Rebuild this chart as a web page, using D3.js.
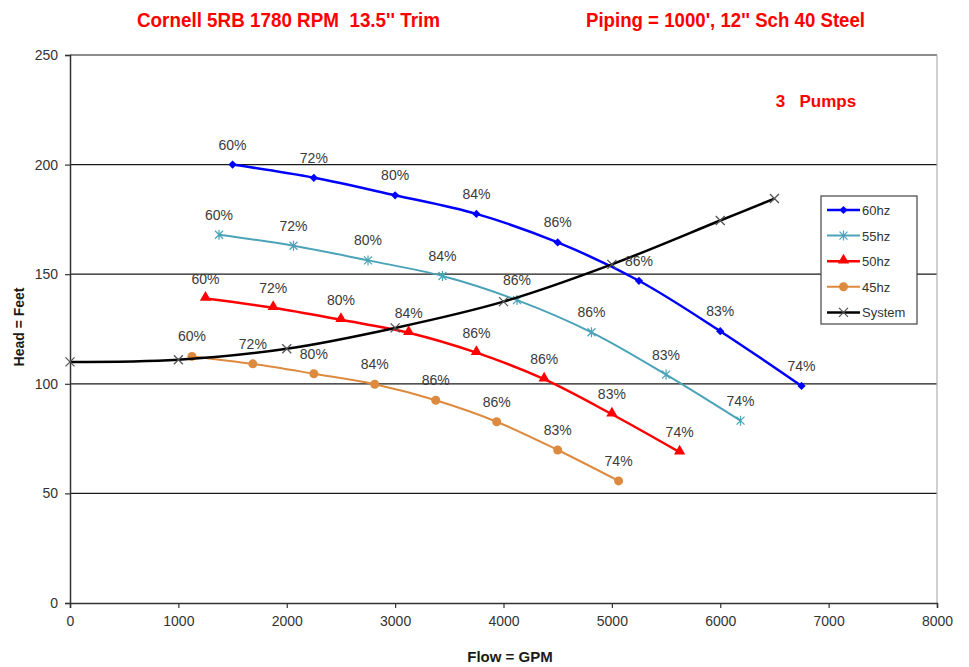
<!DOCTYPE html>
<html>
<head>
<meta charset="utf-8">
<script src="https://cdn.jsdelivr.net/npm/d3@7"></script>
<style>
  html, body { margin: 0; padding: 0; background: #fff; }
  svg { display: block; }
  .narrow { font-family: "Liberation Sans Narrow", "Arial Narrow", "Liberation Sans", Arial, sans-serif; }
  .reg { font-family: "Liberation Sans", Arial, sans-serif; }
</style>
</head>
<body>
<svg id="chart" width="969" height="667"></svg>
<script>
// Pump curves at four drive speeds plus the piping system curve
const flow60 = [1500, 2250, 3000, 3750, 4500, 5250, 6000, 6750];
const head60 = [200, 194, 186, 177.5, 164.5, 147, 124, 99];
const flow55 = [1375, 2062, 2750, 3437, 4125, 4812, 5500, 6187];
const head55 = [168, 163, 156.3, 149.2, 138.2, 123.5, 104.2, 83.2];
const flow50 = [1250, 1875, 2500, 3125, 3750, 4375, 5000, 5625];
const head50 = [138.9, 134.7, 129.2, 123.3, 114.2, 102.1, 86.1, 68.8];
const flow45 = [1125, 1687, 2250, 2812, 3375, 3937, 4500, 5062];
const head45 = [112.5, 109.1, 104.6, 99.8, 92.5, 82.7, 69.8, 55.7];
const effLabels = ["60%", "72%", "80%", "84%", "86%", "86%", "83%", "74%"];
const sysFlow = [0, 1000, 2000, 3000, 4000, 5000, 6000, 6500];
const sysHead = [110, 111, 116, 125.5, 137.5, 154.5, 174.5, 184.5];
const xTicks = [0, 1000, 2000, 3000, 4000, 5000, 6000, 7000, 8000];
const yTicks = [0, 50, 100, 150, 200, 250];

const series = [
  { name: "60hz", flow: flow60, head: head60, color: "#0000ff", marker: "diamond", width: 2.5 },
  { name: "55hz", flow: flow55, head: head55, color: "#4aa3b8", marker: "star", width: 2 },
  { name: "50hz", flow: flow50, head: head50, color: "#ff0000", marker: "triangle", width: 2.5 },
  { name: "45hz", flow: flow45, head: head45, color: "#dd8a3e", marker: "circle", width: 2 },
  { name: "System", flow: sysFlow, head: sysHead, color: "#000000", marker: "cross", width: 2.5 }
];

const svg = d3.select("#chart");
const x = d3.scaleLinear().domain([0, 8000]).range([70, 937]);
const y = d3.scaleLinear().domain([0, 250]).range([603, 55]);

// Gridlines
svg.append("g").selectAll("line").data(yTicks.filter(d => d > 0)).join("line")
  .attr("x1", x(0)).attr("x2", x(8000))
  .attr("y1", d => y(d)).attr("y2", d => y(d))
  .attr("stroke", "#1a1a1a").attr("stroke-width", 1.2);

// Right border of plot area
svg.append("line").attr("x1", x(8000)).attr("x2", x(8000))
  .attr("y1", y(250)).attr("y2", y(0)).attr("stroke", "#b0b0b0").attr("stroke-width", 1.2);

// Axes
const xAxis = svg.append("g").attr("transform", `translate(0,${y(0)})`)
  .call(d3.axisBottom(x).tickValues(xTicks).tickSize(5).tickPadding(8).tickFormat(d3.format("d")));
const yAxis = svg.append("g").attr("transform", `translate(${x(0)},0)`)
  .call(d3.axisLeft(y).tickValues(yTicks).tickSize(5).tickPadding(7).tickFormat(d3.format("d")));
[xAxis, yAxis].forEach(g => {
  g.select(".domain").attr("stroke", "#333").attr("stroke-width", 1.5);
  g.selectAll(".tick line").attr("stroke", "#333").attr("stroke-width", 1.2);
  g.selectAll(".tick text").attr("class", "narrow").attr("font-size", 14).attr("fill", "#333");
});

// Marker symbol generators
function drawMarker(g, type, color) {
  if (type === "diamond") {
    g.append("path").attr("d", d3.symbol(d3.symbolSquare, 34)()).attr("fill", color)
      .attr("transform", "rotate(45)");
  } else if (type === "triangle") {
    g.append("path").attr("d", d3.symbol(d3.symbolTriangle, 55)()).attr("fill", color)
      .attr("transform", "translate(0,-1)");
  } else if (type === "circle") {
    g.append("circle").attr("r", 4.5).attr("fill", color);
  } else if (type === "star") {
    g.append("path").attr("d", "M-4,-4L4,4M-4,4L4,-4M0,-5L0,5").attr("stroke", color)
      .attr("stroke-width", 1.2).attr("fill", "none");
  } else if (type === "cross") {
    g.append("path").attr("d", "M-4.5,-4.5L4.5,4.5M-4.5,4.5L4.5,-4.5").attr("stroke", "#555")
      .attr("stroke-width", 1.3).attr("fill", "none");
  }
}

const line = d3.line().x(d => x(d[0])).y(d => y(d[1])).curve(d3.curveCatmullRom.alpha(0.5));

series.forEach(s => {
  const pts = s.flow.map((f, i) => [f, s.head[i]]);
  svg.append("path").datum(pts).attr("d", line)
    .attr("fill", "none").attr("stroke", s.color).attr("stroke-width", s.width);
  const g = svg.append("g");
  pts.forEach(p => {
    drawMarker(g.append("g").attr("transform", `translate(${x(p[0])},${y(p[1])})`), s.marker, s.color);
  });
});

// Efficiency labels above pump curve points
series.slice(0, 4).forEach(s => {
  svg.append("g").selectAll("text").data(s.flow.map((f, i) => [f, s.head[i], effLabels[i]])).join("text")
    .attr("class", "reg")
    .attr("x", d => x(d[0])).attr("y", d => y(d[1]) - 15)
    .attr("text-anchor", "middle").attr("font-size", 14).attr("fill", "#3a3a3a")
    .text(d => d[2]);
});

// Legend
const lg = svg.append("g").attr("transform", "translate(821,196)");
lg.append("rect").attr("width", 96).attr("height", 128).attr("fill", "#fff")
  .attr("stroke", "#444").attr("stroke-width", 1.2);
series.forEach((s, i) => {
  const yy = 14 + i * 25.6;
  lg.append("line").attr("x1", 6).attr("x2", 39).attr("y1", yy).attr("y2", yy)
    .attr("stroke", s.color).attr("stroke-width", s.width);
  drawMarker(lg.append("g").attr("transform", `translate(22.5,${yy})`), s.marker, s.color);
  lg.append("text").attr("class", "reg").attr("x", 41).attr("y", yy + 5)
    .attr("font-size", 13).attr("fill", "#333").text(s.name);
});

// Titles (condensed to the width of a narrow face)
svg.append("text").attr("class", "narrow").attr("x", 137).attr("y", 27)
  .attr("font-size", 20).attr("font-weight", "bold")
  .attr("textLength", 303).attr("lengthAdjust", "spacingAndGlyphs")
  .attr("fill", "#ff0000").style("white-space", "pre").text("Cornell 5RB 1780 RPM  13.5'' Trim");
svg.append("text").attr("class", "narrow").attr("x", 586).attr("y", 27)
  .attr("font-size", 20).attr("font-weight", "bold")
  .attr("textLength", 279).attr("lengthAdjust", "spacingAndGlyphs")
  .attr("fill", "#ff0000").text("Piping = 1000', 12'' Sch 40 Steel");
svg.append("text").attr("class", "reg").attr("x", 816).attr("y", 107)
  .attr("text-anchor", "middle").attr("font-size", 17).attr("font-weight", "bold")
  .attr("fill", "#ff0000").style("white-space", "pre").text("3   Pumps");

// Axis titles
svg.append("text").attr("class", "narrow").attr("x", 510).attr("y", 662)
  .attr("text-anchor", "middle").attr("font-size", 15).attr("font-weight", "bold")
  .attr("fill", "#1a1a1a").text("Flow = GPM");
svg.append("text").attr("class", "narrow")
  .attr("transform", "translate(24,327) rotate(-90)")
  .attr("text-anchor", "middle").attr("font-size", 14).attr("font-weight", "bold")
  .attr("fill", "#1a1a1a").text("Head = Feet");
</script>
</body>
</html>
